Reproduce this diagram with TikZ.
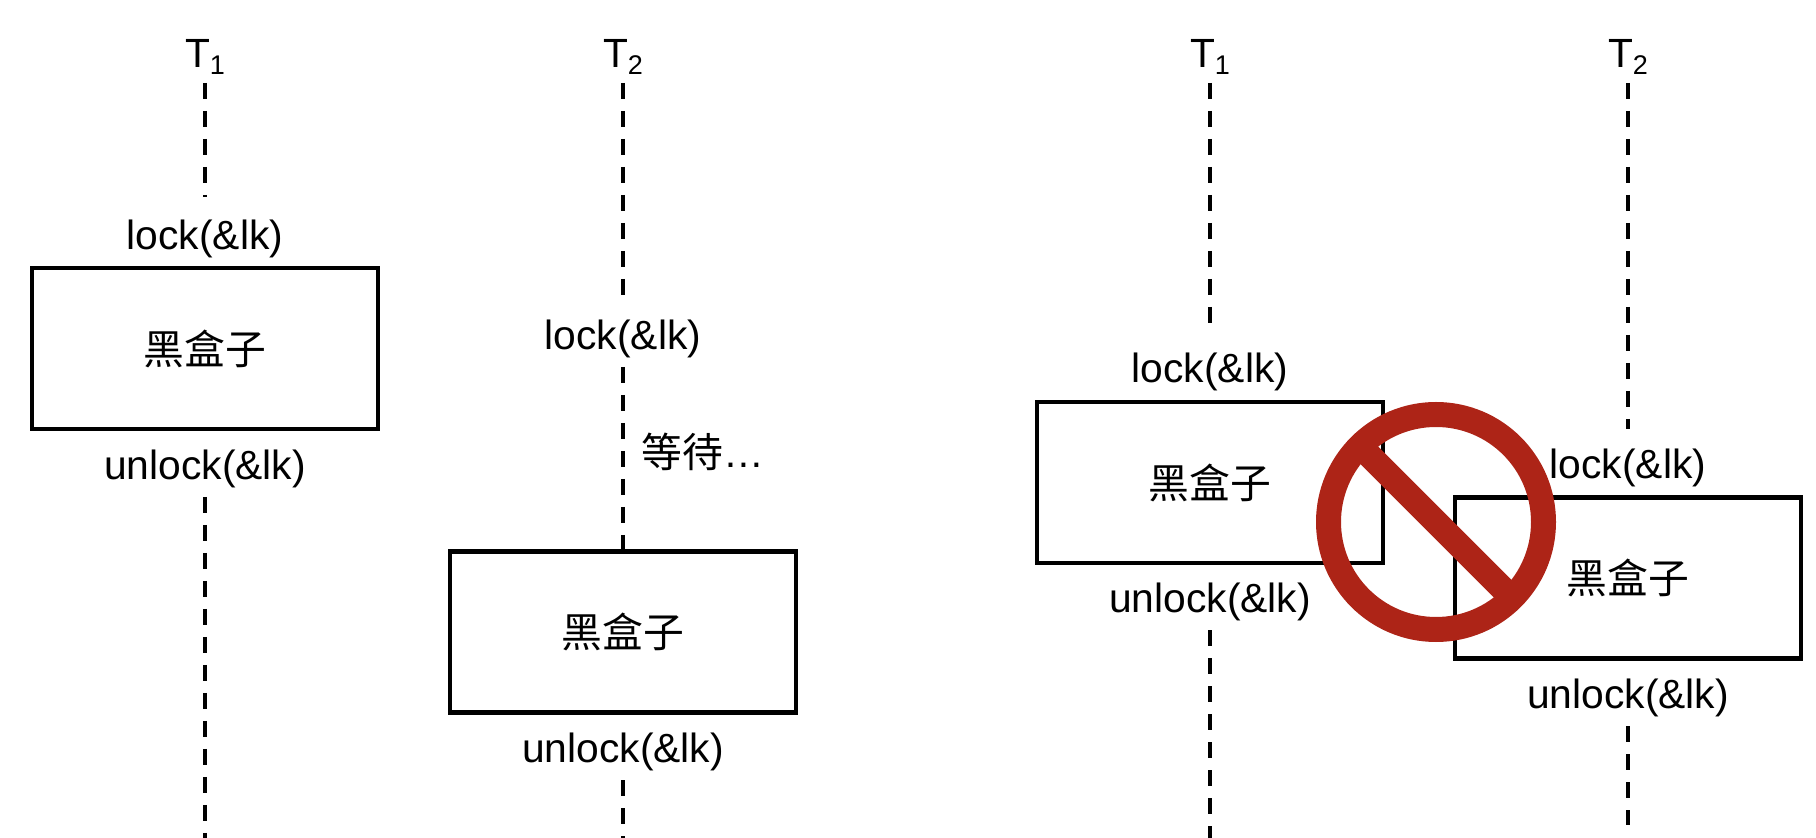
\documentclass[tikz,border=0pt]{standalone}
\usepackage{fontspec}
\usepackage{xcolor}
\setmainfont{Liberation Sans}
\newfontfamily\cjk{Noto Sans CJK SC}
\definecolor{signred}{HTML}{AD2417}
\newcommand{\labelfont}{\fontsize{20.4pt}{24pt}\selectfont}
\newcommand{\tsub}[1]{\raisebox{-3.5pt}{\fontsize{13.5pt}{14pt}\selectfont #1}}
\begin{document}
\begin{tikzpicture}[x=0.5pt, y=-0.5pt, font=\labelfont,
    threadlabel/.style={anchor=base, inner sep=0pt, outer sep=0pt, text depth=7.5pt},
    locklabel/.style={anchor=base, inner sep=0pt, outer sep=0pt, text height=26.25pt, text depth=8.75pt},
    blackbox/.style={draw, line width=2.2pt, minimum width=173pt, minimum height=80.5pt, inner sep=0pt},
    lifeline/.style={line width=1.9pt, dash pattern=on 8pt off 6pt}]
    \useasboundingbox (0,0) rectangle (1816,838);

    \node[threadlabel] (t1L) at (205,68) {T\tsub{1}};
    \node[locklabel] (lock1L) at (205,250) {lock(\&lk)};
    \node[blackbox] (box1L) at (205,348.5) {\cjk 黑盒子};
    \node[locklabel] (unlock1L) at (205,479.5) {unlock(\&lk)};
    \coordinate (end1L) at (205,838);
    \draw[lifeline] (t1L.south) -- (lock1L.north);
    \draw[lifeline] (unlock1L.south) -- (end1L);

    \node[threadlabel] (t2L) at (623,68) {T\tsub{2}};
    \node[locklabel] (lock2L) at (623,349.5) {lock(\&lk)};
    \node[blackbox] (box2L) at (623,632) {\cjk 黑盒子};
    \node[locklabel] (unlock2L) at (623,763) {unlock(\&lk)};
    \node[anchor=base west, inner sep=0pt] (waitL) at (641,467.5) {{\cjk 等待}…};
    \coordinate (end2L) at (623,838);
    \draw[lifeline] (t2L.south) -- (lock2L.north);
    \draw[lifeline] (lock2L.south) -- (box2L.north);
    \draw[lifeline] (unlock2L.south) -- (end2L);

    \node[threadlabel] (t1R) at (1210,68) {T\tsub{1}};
    \node[locklabel] (lock1R) at (1210,383) {lock(\&lk)};
    \node[blackbox] (box1R) at (1210,482.5) {\cjk 黑盒子};
    \node[locklabel] (unlock1R) at (1210,613) {unlock(\&lk)};
    \coordinate (end1R) at (1210,838);
    \draw[lifeline] (t1R.south) -- (lock1R.north);
    \draw[lifeline] (unlock1R.south) -- (end1R);

    \node[threadlabel] (t2R) at (1628,68) {T\tsub{2}};
    \node[locklabel] (lock2R) at (1628,479) {lock(\&lk)};
    \node[blackbox] (box2R) at (1628,578) {\cjk 黑盒子};
    \node[locklabel] (unlock2R) at (1628,709) {unlock(\&lk)};
    \coordinate (end2R) at (1628,825);
    \draw[lifeline, shorten >=-1.5pt] (t2R.south) -- (lock2R.north);
    \draw[lifeline] (unlock2R.south) -- (end2R);

    \node[circle, draw=signred, line width=12.5pt, minimum size=107.5pt, inner sep=0pt, outer sep=0pt] (nosign) at (1436,522) {};
    \draw[signred, line width=12.5pt] (nosign.135) -- (nosign.-45);
\end{tikzpicture}
\end{document}
